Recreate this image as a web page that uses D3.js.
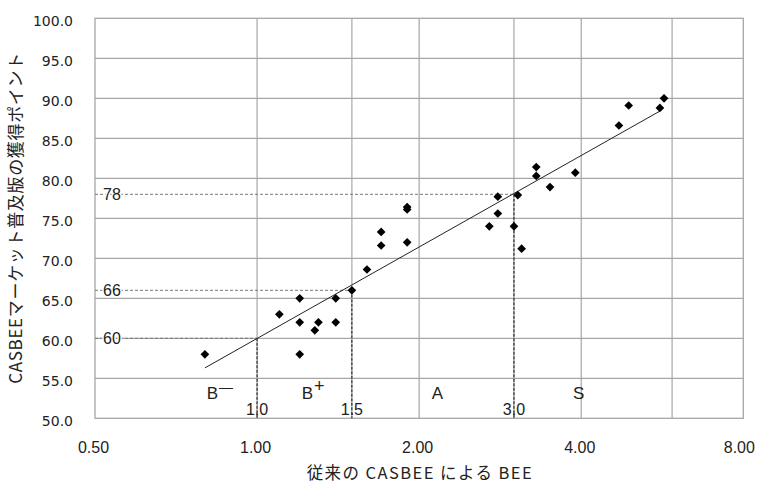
<!DOCTYPE html>
<html>
<head>
<meta charset="utf-8">
<script src="https://cdn.jsdelivr.net/npm/d3@7/dist/d3.min.js"></script>
<style>
  body { margin: 0; background: #fff; }
  svg { display: block; }
</style>
</head>
<body>
<div id="chart"></div>
<script>
// Conventional BEE (x) vs. CASBEE market-edition points (y)
const bee = [0.80, 1.10, 1.20, 1.20, 1.20, 1.28, 1.30, 1.40, 1.40, 1.50,
  1.60, 1.70, 1.70, 1.90, 1.90, 1.90, 2.70, 2.80, 2.80, 3.00,
  3.05, 3.10, 3.30, 3.30, 3.50, 3.90, 4.70, 4.90, 5.60, 5.70]
const points = [58.0, 63.0, 65.0, 62.0, 58.0, 61.0, 62.0, 65.0, 62.0, 66.0,
  68.6, 73.3, 71.6, 76.4, 76.1, 72.0, 74.0, 77.7, 75.6, 74.0,
  77.9, 71.2, 81.4, 80.3, 78.9, 80.7, 86.6, 89.1, 88.8, 90.0]

// Trend line end points
const trendX = [0.80, 5.60]
const trendY = [56.3, 88.4]

// Axis ticks and gridlines
const xTicks = [0.5, 1, 2, 4, 8]
const xGrid = [1, 1.5, 2, 3, 4, 5.9]
const yTicks = [50, 55, 60, 65, 70, 75, 80, 85, 90, 95, 100]

// Rank thresholds: BEE value and matching point score
const guideX = [1.0, 1.5, 3.0]
const guideY = [60, 66, 78]
const guideXLabels = ["1.0", "1.5", "3.0"]
const guideYLabels = ["60", "66", "78"]

// Rank names and where they sit on the BEE axis
const ranks = ["B", "B", "A", "S"]
const rankSup = ["—", "+", "", ""]
const rankX = [0.806, 1.21, 2.11, 3.86]

const width = 758
const height = 486
const margin = { top: 18.3, right: 14.7, bottom: 67.7, left: 95 }

const svg = d3.select("#chart").append("svg")
  .attr("width", width)
  .attr("height", height)

svg.append("rect")
  .attr("width", width)
  .attr("height", height)
  .attr("fill", "#fff")

const x = d3.scaleLog().base(2)
  .domain([0.5, 8])
  .range([margin.left, width - margin.right])
const y = d3.scaleLinear()
  .domain([50, 100])
  .range([height - margin.bottom, margin.top])

const gridColour = "#a6a6a6"

// Gridlines
const grid = svg.append("g").attr("class", "grid")
grid.selectAll("line.h")
  .data(yTicks.slice(1, -1))
  .join("line")
  .attr("class", "h")
  .attr("x1", x(0.5)).attr("x2", x(8))
  .attr("y1", d => y(d)).attr("y2", d => y(d))
  .attr("stroke", gridColour)
  .attr("stroke-width", 1.2)
grid.selectAll("line.v")
  .data(xGrid)
  .join("line")
  .attr("class", "v")
  .attr("x1", d => x(d)).attr("x2", d => x(d))
  .attr("y1", y(100)).attr("y2", y(50))
  .attr("stroke", gridColour)
  .attr("stroke-width", 1.2)
svg.append("rect")
  .attr("x", x(0.5)).attr("y", y(100))
  .attr("width", x(8) - x(0.5))
  .attr("height", y(50) - y(100))
  .attr("fill", "none")
  .attr("stroke", gridColour)
  .attr("stroke-width", 1.3)

// Threshold guides
const guides = svg.append("g").attr("class", "guides")
guides.selectAll("line.gh")
  .data(guideX)
  .join("line")
  .attr("class", "gh")
  .attr("x1", x(0.5)).attr("x2", d => x(d))
  .attr("y1", (d, i) => y(guideY[i])).attr("y2", (d, i) => y(guideY[i]))
  .attr("stroke", "#777")
  .attr("stroke-width", 1)
  .attr("stroke-dasharray", "3,2")
guides.selectAll("line.gv")
  .data(guideX)
  .join("line")
  .attr("class", "gv")
  .attr("x1", d => x(d)).attr("x2", d => x(d))
  .attr("y1", (d, i) => y(guideY[i])).attr("y2", y(50))
  .attr("stroke", "#111")
  .attr("stroke-width", 1)
  .attr("stroke-dasharray", "3,1.5")

const labelFont = "'Liberation Sans', Arial, sans-serif"

guides.selectAll("text.gyl")
  .data(guideYLabels)
  .join("text")
  .attr("class", "gyl")
  .attr("x", x(0.5) + 8)
  .attr("y", (d, i) => y(guideY[i]))
  .attr("dy", "0.36em")
  .attr("font-family", labelFont)
  .attr("font-size", 16)
  .attr("fill", "#222")
  .attr("stroke", "#fff")
  .attr("stroke-width", 3)
  .attr("paint-order", "stroke")
  .text(d => d)

guides.selectAll("text.gxl")
  .data(guideXLabels)
  .join("text")
  .attr("class", "gxl")
  .attr("x", (d, i) => x(guideX[i]))
  .attr("y", y(50) - 3)
  .attr("text-anchor", "middle")
  .attr("font-family", labelFont)
  .attr("font-size", 16)
  .attr("fill", "#222")
  .text(d => d)

// Rank names
const rankText = svg.append("g").selectAll("text")
  .data(ranks)
  .join("text")
  .attr("x", (d, i) => x(rankX[i]))
  .attr("y", y(52.4))
  .attr("font-family", labelFont)
  .attr("font-size", 17)
  .attr("fill", "#222")
rankText.append("tspan").text(d => d)
rankText.append("tspan")
  .attr("dx", 1)
  .attr("dy", -7)
  .attr("font-size", (d, i) => i === 0 ? 14 : 18)
  .text((d, i) => rankSup[i])

// Trend line
svg.append("path")
  .datum(trendX.map((d, i) => [d, trendY[i]]))
  .attr("d", d3.line().x(d => x(d[0])).y(d => y(d[1])))
  .attr("fill", "none")
  .attr("stroke", "#222")
  .attr("stroke-width", 1)

// Markers
svg.append("g").selectAll("path")
  .data(bee.map((d, i) => [d, points[i]]))
  .join("path")
  .attr("d", d3.symbol(d3.symbolSquare, 38))
  .attr("transform", d => `translate(${x(d[0])},${y(d[1])}) rotate(45)`)
  .attr("fill", "#000")

// Axes
const xAxis = svg.append("g")
  .attr("transform", `translate(-2,${y(50)})`)
  .call(d3.axisBottom(x).tickValues(xTicks).tickSize(0).tickPadding(23.5)
    .tickFormat(d3.format(".2f")))
xAxis.select(".domain").remove()
xAxis.selectAll("text")
  .attr("font-family", labelFont)
  .attr("font-size", 16)
  .attr("fill", "#222")
xAxis.selectAll(".tick").filter(d => d === 8)
  .attr("transform", `translate(${x(8) - 2},0)`)

const yAxis = svg.append("g")
  .attr("transform", `translate(${x(0.5)},0)`)
  .call(d3.axisLeft(y).tickValues(yTicks).tickSize(0).tickPadding(22)
    .tickFormat(d3.format(".1f")))
yAxis.select(".domain").remove()
yAxis.selectAll("text")
  .attr("dy", "0.48em")
  .attr("font-family", "'DejaVu Sans', Verdana, sans-serif")
  .attr("font-size", 14)
  .attr("fill", "#222")

// Axis titles
svg.append("text")
  .attr("x", (x(0.5) + x(8)) / 2)
  .attr("y", 479)
  .attr("text-anchor", "middle")
  .attr("font-family", "'Noto Sans CJK JP', sans-serif")
  .attr("font-size", 16.5)
  .attr("fill", "#222")
  .attr("textLength", 225)
  .text("従来の CASBEE による BEE")

svg.append("text")
  .attr("transform", `translate(22,${(y(50) + y(100)) / 2}) rotate(-90)`)
  .attr("text-anchor", "middle")
  .attr("font-family", "'Noto Sans CJK JP', sans-serif")
  .attr("font-size", 17)
  .attr("fill", "#222")
  .attr("textLength", 331)
  .text("CASBEEマーケット普及版の獲得ポイント")
</script>
</body>
</html>
